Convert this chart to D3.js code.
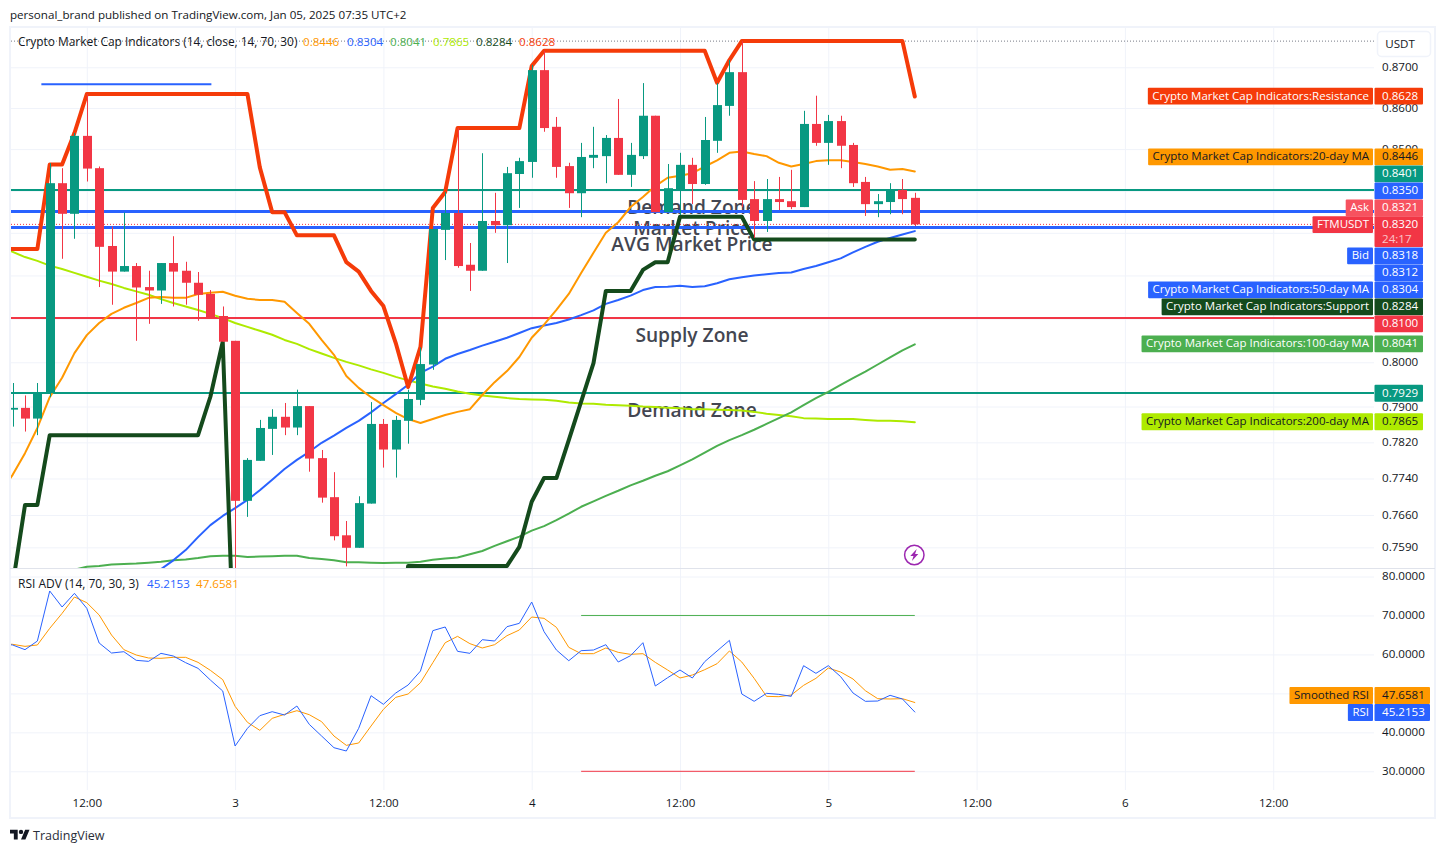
<!DOCTYPE html>
<html>
<head>
<meta charset="utf-8">
<title>FTMUSDT</title>
<script src="https://cdnjs.cloudflare.com/ajax/libs/d3/7.9.0/d3.min.js"></script>
<style>
  html, body { margin: 0; padding: 0; background: #fff; }
  svg { display: block; }
  text { font-family: "Open Sans", sans-serif; font-size: 11.6px; fill: #131722; }
</style>
</head>
<body>
<svg id="chart" width="1445" height="853"></svg>
<script>
// hourly candles, first one is Jan 2 06:00
const opens = [.7893,.7897,.7873,.7930,.8418,.8345,.8532,.8454,.8269,.8209,.8222,.8173,.8165,.8229,.8211,.8183,.8157,.8106,.8049,.7691,.7779,.7850,.7877,.7853,.7901,.7785,.7699,.7616,.7589,.7685,.7861,.7804,.7868,.7915,.7995,.8307,.8347,.8225,.8211,.8328,.8318,.8440,.8469,.8693,.8554,.8459,.8394,.8479,.8483,.8527,.8438,.8483,.8581,.8349,.8402,.8462,.8416,.8520,.8605,.8688,.8380,.8328,.8380,.8375,.8361,.8561,.8515,.8568,.8510,.8421,.8368,.8373,.8402,.8383];
const highs = [.7953,.7925,.7953,.8466,.8454,.8539,.8634,.8458,.8315,.8348,.8229,.8211,.8229,.8292,.8232,.8208,.8166,.8128,.8049,.7785,.7870,.7894,.7908,.7938,.7901,.7803,.7754,.7647,.7701,.7910,.7872,.7879,.7938,.8034,.8309,.8397,.8551,.8276,.8490,.8395,.8457,.8479,.8706,.8741,.8578,.8467,.8515,.8554,.8534,.8622,.8515,.8661,.8581,.8464,.8491,.8479,.8578,.8661,.8718,.8765,.8423,.8428,.8433,.8450,.8593,.8630,.8583,.8581,.8515,.8433,.8392,.8418,.8428,.8395];
const lows = [.7855,.7844,.7836,.7921,.8239,.8286,.8422,.8173,.8132,.8209,.8049,.8088,.8134,.8128,.8132,.8095,.8103,.8047,.7291,.7656,.7779,.7792,.7836,.7836,.7755,.7687,.7605,.7549,.7589,.7685,.7764,.7742,.7817,.7903,.7983,.8236,.8218,.8164,.8211,.8300,.8229,.8359,.8431,.8542,.8431,.8359,.8337,.8454,.8418,.8438,.8409,.8476,.8349,.8349,.8342,.8368,.8414,.8491,.8581,.8361,.8288,.8302,.8354,.8356,.8361,.8508,.8462,.8454,.8409,.8340,.8337,.8344,.8344,.8316];
const closes = [.7897,.7873,.7930,.8418,.8345,.8532,.8453,.8267,.8209,.8222,.8172,.8165,.8229,.8209,.8183,.8155,.8103,.8047,.7691,.7781,.7852,.7877,.7853,.7901,.7784,.7698,.7614,.7589,.7686,.7861,.7804,.7870,.7917,.7996,.8309,.8347,.8222,.8211,.8328,.8318,.8442,.8471,.8693,.8551,.8457,.8394,.8481,.8486,.8527,.8438,.8486,.8581,.8349,.8406,.8462,.8416,.8522,.8607,.8688,.8378,.8328,.8380,.8373,.8361,.8561,.8515,.8568,.8508,.8418,.8368,.8375,.8402,.8380,.8320];

// indicator lines, each with the hour (since Jan 2 00:00) of its first value
const resistance = [.8262,.8262,.8262,.8262,.8463,.8463,.8539,.8634,.8634,.8634,.8634,.8634,.8634,.8634,.8634,.8634,.8634,.8634,.8634,.8634,.8634,.8456,.8349,.8349,.8294,.8294,.8294,.8294,.8231,.8209,.8164,.8129,.8044,.7944,.8035,.8359,.8397,.8551,.8551,.8551,.8551,.8551,.8551,.8703,.8741,.8741,.8741,.8741,.8741,.8741,.8741,.8741,.8741,.8741,.8741,.8741,.8741,.8741,.8662,.8718,.8765,.8765,.8765,.8765,.8765,.8765,.8765,.8765,.8765,.8765,.8765,.8765,.8765,.8765,.8628];
const support = [.7440,.7509,.7682,.7682,.7836,.7836,.7836,.7836,.7836,.7836,.7836,.7836,.7836,.7836,.7836,.7836,.7836,.7922,.8047,.7291,.7291,.7291,.7291,.7291,.7291,.7291,.7291,.7291,.7291,.7291,.7291,.7291,.7291,.7550,.7550,.7550,.7550,.7550,.7550,.7550,.7550,.7550,.7591,.7689,.7741,.7741,.7825,.7911,.7998,.8164,.8164,.8164,.8213,.8231,.8231,.8338,.8338,.8338,.8338,.8338,.8338,.8284,.8284,.8284,.8284,.8284,.8284,.8284,.8284,.8284,.8284,.8284,.8284,.8284,.8284];
const ma20 = [.7710,.7748,.7796,.7852,.7921,.7965,.8021,.8062,.8090,.8111,.8125,.8136,.8148,.8150,.8148,.8148,.8157,.8160,.8162,.8153,.8146,.8143,.8143,.8139,.8113,.8088,.8051,.8017,.7969,.7942,.7921,.7903,.7886,.7872,.7863,.7872,.7881,.7888,.7894,.7926,.7955,.7980,.8012,.8056,.8086,.8120,.8157,.8206,.8253,.8300,.8325,.8361,.8385,.8411,.8431,.8436,.8442,.8458,.8473,.8491,.8494,.8488,.8483,.8467,.8458,.8464,.8471,.8473,.8473,.8469,.8464,.8458,.8450,.8452,.8446];
const ma50 = [.7523,.7543,.7562,.7584,.7612,.7638,.7658,.7675,.7693,.7714,.7737,.7761,.7781,.7799,.7819,.7835,.7852,.7868,.7887,.7908,.7928,.7949,.7976,.7990,.8008,.8019,.8028,.8038,.8047,.8056,.8067,.8078,.8084,.8090,.8098,.8108,.8119,.8134,.8143,.8153,.8166,.8173,.8174,.8176,.8173,.8175,.8182,.8191,.8196,.8200,.8203,.8206,.8207,.8215,.8222,.8231,.8240,.8254,.8267,.8279,.8288,.8296,.8304];
const ma100 = [.7542,.7548,.7550,.7553,.7554,.7555,.7557,.7559,.7562,.7564,.7567,.7571,.7572,.7572,.7569,.7570,.7571,.7572,.7572,.7567,.7565,.7562,.7558,.7558,.7557,.7556,.7557,.7557,.7559,.7563,.7566,.7568,.7575,.7582,.7593,.7603,.7613,.7626,.7636,.7649,.7663,.7678,.7690,.7702,.7713,.7725,.7735,.7746,.7756,.7769,.7782,.7797,.7812,.7825,.7836,.7848,.7861,.7874,.7887,.7903,.7919,.7933,.7949,.7964,.7979,.7995,.8011,.8027,.8041];
const ma200 = [.8267,.8255,.8243,.8234,.8223,.8215,.8206,.8197,.8188,.8180,.8171,.8163,.8155,.8145,.8136,.8128,.8120,.8111,.8101,.8090,.8081,.8072,.8063,.8051,.8042,.8030,.8020,.8010,.8001,.7993,.7984,.7976,.7967,.7959,.7952,.7945,.7940,.7934,.7929,.7925,.7922,.7919,.7917,.7916,.7915,.7913,.7909,.7907,.7906,.7904,.7903,.7902,.7900,.7899,.7897,.7896,.7894,.7894,.7893,.7892,.7891,.7888,.7884,.7881,.7878,.7874,.7873,.7872,.7872,.7872,.7870,.7868,.7868,.7867,.7865];
const rsi = [62.76,62.42,61.22,63.44,76.28,72.17,75.68,71.83,62.93,60.36,60.70,58.48,58.22,60.28,59.59,57.88,56.43,53.43,50.61,36.49,41.03,44.28,45.30,44.45,46.76,42.05,39.06,36.06,35.21,41.03,49.41,47.19,50.10,52.15,55.74,66.10,67.04,60.79,60.28,63.78,63.44,67.12,67.98,73.45,65.84,61.13,58.39,60.96,61.13,62.50,58.05,59.68,63.01,51.89,54.03,56.00,53.95,58.14,60.88,63.61,49.84,47.96,50.01,49.75,49.24,57.11,55.14,57.11,54.29,50.10,47.96,48.04,49.50,48.56,45.22];
const rsiSmooth = [62.76,62.59,62.07,62.42,66.69,70.54,74.74,73.28,70.12,64.98,61.22,59.85,59.08,59.00,59.25,59.25,57.97,55.91,53.52,46.67,42.57,40.51,43.59,44.62,45.56,44.53,42.74,39.06,36.66,37.26,41.62,45.90,48.98,49.84,52.75,57.88,63.00,64.64,62.76,61.65,62.50,64.81,66.27,69.60,69.26,66.95,61.82,60.19,60.19,61.65,60.53,60.02,60.19,57.97,56.00,53.95,54.72,56.08,57.62,60.88,58.05,53.86,49.24,49.15,49.58,52.06,53.86,56.51,55.48,53.69,50.69,48.64,48.56,48.64,47.66];

// horizontal levels and zone captions
const levelPrices = [.8401, .8350, .8312, .8100, .7929];
const levelColors = ["#089981", "#2962ff", "#2962ff", "#f23645", "#089981"];
const zoneLabels = ["Demand Zone", "Market Price", "AVG Market Price", "Supply Zone", "Demand Zone"];
const zonePrices = [.8361, .8310, .8273, .8062, .7892];

// ticks
const priceTicks = [.87, .86, .85, .84, .83, .82, .81, .80, .79, .782, .774, .766, .759];
const priceTickLabels = [.87, .86, .85, .80, .79, .782, .774, .766, .759];
const rsiTicks = [80, 70, 60, 50, 40, 30];
const timeHours = [12, 24, 36, 48, 60, 72, 84, 96, 108];
const timeLabels = ["12:00", "3", "12:00", "4", "12:00", "5", "12:00", "6", "12:00"];

// price scale tags
const topTags = [
  { name: "Crypto Market Cap Indicators:Resistance", value: .8628, fill: "#f53b09", text: "#fff" },
  { name: "Crypto Market Cap Indicators:100-day MA", value: .8041, fill: "#4caf50", text: "#fff" },
  { name: null, value: .7929, fill: "#089981", text: "#fff" },
  { name: "Crypto Market Cap Indicators:200-day MA", value: .7865, fill: "#aeea00", text: "#131722" }
];
const stackedTags = [
  { name: "Crypto Market Cap Indicators:20-day MA", value: "0.8446", fill: "#ff9800", text: "#131722" },
  { name: null, value: "0.8401", fill: "#089981", text: "#fff" },
  { name: null, value: "0.8350", fill: "#2962ff", text: "#fff" },
  { name: "Ask", value: "0.8321", fill: "#f7525f", text: "#fff" },
  { name: "FTMUSDT", value: "0.8320", fill: "#f23645", text: "#fff", sub: "24:17" },
  { name: "Bid", value: "0.8318", fill: "#2962ff", text: "#fff" },
  { name: null, value: "0.8312", fill: "#2962ff", text: "#fff" },
  { name: "Crypto Market Cap Indicators:50-day MA", value: "0.8304", fill: "#2962ff", text: "#fff" },
  { name: "Crypto Market Cap Indicators:Support", value: "0.8284", fill: "#144a1c", text: "#fff" },
  { name: null, value: "0.8100", fill: "#f23645", text: "#fff" }
];
const rsiTags = [
  { name: "Smoothed RSI", value: "47.6581", fill: "#ff9800", text: "#131722" },
  { name: "RSI", value: "45.2153", fill: "#2962ff", text: "#fff" }
];
const legendValues = ["0.8446", "0.8304", "0.8041", "0.7865", "0.8284", "0.8628"];
const legendColors = ["#ff9800", "#2962ff", "#4caf50", "#aeea00", "#144a1c", "#f53b09"];
const legendX = [303, 347, 390, 433, 476, 519];

const svg = d3.select("#chart");

const paneLeft = 11, paneRight = 1374, topPaneTop = 28, topPaneBottom = 568, rsiBottom = 790, frameBottom = 818;
const hourDate = (h) => new Date(Date.UTC(2025, 0, 2, h));

const x = d3.scaleUtc().domain([hourDate(6), hourDate(108)]).range([12.65, 1273.2]);
const y = d3.scaleLog().domain([.87, .80]).range([67.3, 362.3]);
const yRsi = d3.scaleLinear().domain([80, 30]).range([576.5, 771.3]);

const defs = svg.append("defs");
defs.append("clipPath").attr("id", "clipTop").append("rect")
  .attr("x", paneLeft).attr("y", topPaneTop).attr("width", paneRight - paneLeft).attr("height", topPaneBottom - topPaneTop);
defs.append("clipPath").attr("id", "clipRsi").append("rect")
  .attr("x", paneLeft).attr("y", topPaneBottom).attr("width", paneRight - paneLeft).attr("height", rsiBottom - topPaneBottom);

// frame
svg.append("rect").attr("x", 10).attr("y", 27).attr("width", 1425).attr("height", frameBottom - 27)
  .attr("fill", "#fff").attr("stroke", "#f0f3fa").attr("stroke-width", 2);

// grid
const grid = svg.append("g");
grid.append("g").attr("transform", `translate(0,${rsiBottom})`)
  .call(d3.axisBottom(x).tickValues(timeHours.map(hourDate)).tickSize(-(rsiBottom - topPaneTop)).tickFormat(""));
grid.append("g").attr("transform", `translate(${paneRight},0)`)
  .call(d3.axisLeft(y).tickValues(priceTicks).tickSize(paneRight - paneLeft).tickFormat(""));
grid.append("g").attr("transform", `translate(${paneRight},0)`)
  .call(d3.axisLeft(yRsi).tickValues(rsiTicks).tickSize(paneRight - paneLeft).tickFormat(""));
grid.selectAll(".domain").remove();
grid.selectAll("line").attr("stroke", "#f0f3fa").attr("stroke-width", 1);

const topPane = svg.append("g").attr("clip-path", "url(#clipTop)");

// top dotted line under the legend
topPane.append("line").attr("x1", paneLeft).attr("x2", paneRight).attr("y1", y(.8765)).attr("y2", y(.8765))
  .attr("stroke", "#787b86").attr("stroke-width", 1).attr("stroke-dasharray", "1 2");

// zone captions
topPane.selectAll("text.zone").data(zoneLabels).join("text").attr("class", "zone")
  .attr("x", 692).attr("y", (d, i) => y(zonePrices[i]))
  .attr("dy", "0.35em").attr("text-anchor", "middle")
  .style("font-size", "19.2px").style("font-weight", 600).style("fill", "#434651")
  .text((d) => d);

// levels
topPane.selectAll("line.level").data(levelPrices).join("line").attr("class", "level")
  .attr("x1", paneLeft).attr("x2", paneRight)
  .attr("y1", (d) => y(d) - 0.6).attr("y2", (d) => y(d) - 0.6)
  .attr("stroke", (d, i) => levelColors[i])
  .attr("stroke-width", (d, i) => levelColors[i] === "#2962ff" ? 3 : 2)
  .attr("shape-rendering", "crispEdges");
topPane.append("line").attr("x1", paneLeft).attr("x2", paneRight).attr("y1", y(.8320)).attr("y2", y(.8320))
  .attr("stroke", "#f23645").attr("stroke-width", 1).attr("stroke-dasharray", "1 2");

// trend segment above the first peak
topPane.append("line").attr("x1", x(hourDate(8)) + 4).attr("x2", x(hourDate(22)) + 1).attr("y1", y(.8658)).attr("y2", y(.8658))
  .attr("stroke", "#2962ff").attr("stroke-width", 2);

const drawLine = (parent, yScale, values, firstHour, color, width) => {
  const line = d3.line().x((d, i) => x(hourDate(firstHour + i))).y((d) => yScale(d));
  parent.append("path").datum(values).attr("d", line)
    .attr("fill", "none").attr("stroke", color).attr("stroke-width", width)
    .attr("stroke-linejoin", "round").attr("stroke-linecap", "round");
};

drawLine(topPane, y, ma200, 5, "#aeea00", 2);
drawLine(topPane, y, ma100, 11, "#4caf50", 2);
drawLine(topPane, y, ma50, 17, "#2962ff", 2);
drawLine(topPane, y, ma20, 5, "#ff9800", 2);
drawLine(topPane, y, support, 5, "#144a1c", 4);
drawLine(topPane, y, resistance, 5, "#f53b09", 4);

// candles
const candles = topPane.selectAll("g.candle").data(d3.range(opens.length)).join("g").attr("class", "candle");
const candleColor = (i) => closes[i] >= opens[i] ? "#089981" : "#f23645";
const candleX = (i) => Math.round(x(hourDate(6 + i)));
candles.append("line")
  .attr("x1", (i) => candleX(i) + 0.5).attr("x2", (i) => candleX(i) + 0.5)
  .attr("y1", (i) => y(highs[i])).attr("y2", (i) => y(lows[i]))
  .attr("stroke", candleColor).attr("stroke-width", 1);
candles.append("rect")
  .attr("x", (i) => candleX(i) - 4).attr("width", 9)
  .attr("y", (i) => y(Math.max(opens[i], closes[i])))
  .attr("height", (i) => Math.max(1.5, Math.abs(y(opens[i]) - y(closes[i]))))
  .attr("fill", candleColor);

// lightning badge
const badge = svg.append("g").attr("transform", "translate(914.3,555)");
badge.append("circle").attr("r", 9.7).attr("fill", "#fff").attr("stroke", "#9c27b0").attr("stroke-width", 1.5);
badge.append("path").attr("d", "M2.4,-6 L-4,1 L-0.8,1 L-2.4,6 L4,-1 L0.8,-1 Z").attr("fill", "#9c27b0");

// rsi pane
const rsiPane = svg.append("g").attr("clip-path", "url(#clipRsi)");
rsiPane.append("line").attr("x1", x(hourDate(52))).attr("x2", x(hourDate(79))).attr("y1", yRsi(70)).attr("y2", yRsi(70))
  .attr("stroke", "#4caf50").attr("stroke-width", 1);
rsiPane.append("line").attr("x1", x(hourDate(52))).attr("x2", x(hourDate(79))).attr("y1", yRsi(30)).attr("y2", yRsi(30))
  .attr("stroke", "#f23645").attr("stroke-width", 1);
drawLine(rsiPane, yRsi, rsiSmooth, 5, "#ff9800", 1);
drawLine(rsiPane, yRsi, rsi, 5, "#2962ff", 1);

// separator
svg.append("line").attr("x1", 10).attr("x2", 1435).attr("y1", topPaneBottom + 0.5).attr("y2", topPaneBottom + 0.5)
  .attr("stroke", "#e0e3eb");

// axes labels
const timeAxis = svg.append("g").attr("transform", `translate(0,${rsiBottom + 9})`)
  .call(d3.axisBottom(x).tickValues(timeHours.map(hourDate)).tickSize(0)
    .tickFormat((d, i) => timeLabels[i]));
const priceAxis = svg.append("g").attr("transform", "translate(1382,0)")
  .call(d3.axisRight(y).tickValues(priceTickLabels).tickSize(0).tickFormat(d3.format(".4f")));
const rsiAxis = svg.append("g").attr("transform", "translate(1382,0)")
  .call(d3.axisRight(yRsi).tickValues(rsiTicks).tickSize(0).tickFormat(d3.format(".4f")));
[timeAxis, priceAxis, rsiAxis].forEach((a) => {
  a.select(".domain").remove();
  a.attr("font-family", null).attr("font-size", null);
});
priceAxis.selectAll("text").attr("x", 0).attr("dy", "0.3em");
rsiAxis.selectAll("text").attr("x", 0).attr("dy", "0.3em");
timeAxis.selectAll("text").attr("y", 0).attr("dy", "0.71em");

// USDT button
svg.append("rect").attr("x", 1377.5).attr("y", 31.5).attr("width", 53).attr("height", 25).attr("rx", 4)
  .attr("fill", "#fff").attr("stroke", "#f0f3fa").attr("stroke-width", 1.5);
svg.append("text").attr("x", 1400).attr("y", 44).attr("dy", "0.35em").attr("text-anchor", "middle").text("USDT");

// price scale tags
const drawTag = (tag, cy, rightEdge) => {
  const h = tag.sub ? 30.7 : 16.8;
  const boxTop = tag.sub ? cy : cy - h / 2;
  svg.append("rect").attr("x", 1374.5).attr("y", boxTop).attr("width", rightEdge - 1374.5).attr("height", h)
    .attr("rx", 1).attr("fill", tag.fill);
  const midY = tag.sub ? boxTop + 8.4 : cy;
  svg.append("text").attr("x", 1382).attr("y", midY - 0.5).attr("dy", "0.35em")
    .style("fill", tag.text).text(tag.valueText);
  if (tag.sub) {
    svg.append("text").attr("x", 1382).attr("y", boxTop + 22.5).attr("dy", "0.35em")
      .style("fill", "#fff").style("opacity", 0.7).text(tag.sub);
  }
  if (tag.name) {
    const rect = svg.append("rect").attr("y", midY - 8.4).attr("height", 16.8).attr("rx", 1).attr("fill", tag.fill);
    const label = svg.append("text").attr("x", 1369).attr("y", midY - 0.5).attr("dy", "0.35em")
      .attr("text-anchor", "end").style("fill", tag.text).style("font-size", "11.5px").text(tag.name);
    const w = label.node().getComputedTextLength();
    rect.attr("x", 1369 - w - 4.5).attr("width", w + 8.5);
  }
};

topTags.forEach((t) => drawTag({ ...t, valueText: d3.format(".4f")(t.value) }, y(t.value) - 0.4, 1423));

let stackY = 148.3;
stackedTags.forEach((t) => {
  const tall = !!t.sub;
  drawTag({ ...t, valueText: t.value }, tall ? stackY : stackY + 8.5, 1423);
  stackY += tall ? 31 : 17;
});
let rsiStackY = 687;
rsiTags.forEach((t) => {
  drawTag({ ...t, valueText: t.value }, rsiStackY + 8.5, 1430);
  rsiStackY += 17;
});

// legends
svg.append("text").attr("x", 18).attr("y", 41.5).attr("dy", "0.35em").style("font-size", "11.9px").text("Crypto Market Cap Indicators (14, close, 14, 70, 30)");
svg.selectAll("text.legendValue").data(legendValues).join("text").attr("class", "legendValue")
  .attr("x", (d, i) => legendX[i]).attr("y", 41.5).attr("dy", "0.35em")
  .style("font-size", "11.6px").style("fill", (d, i) => legendColors[i]).text((d) => d);
svg.append("text").attr("x", 18).attr("y", 583.5).attr("dy", "0.35em").style("font-size", "12px").text("RSI ADV (14, 70, 30, 3)");
svg.append("text").attr("x", 147).attr("y", 583.5).attr("dy", "0.35em").style("fill", "#2962ff").text("45.2153");
svg.append("text").attr("x", 196).attr("y", 583.5).attr("dy", "0.35em").style("fill", "#ff9800").text("47.6581");

// header and footer
svg.append("text").attr("x", 10).attr("y", 15).attr("dy", "0.35em").text("personal_brand published on TradingView.com, Jan 05, 2025 07:35 UTC+2");
const logo = svg.append("g").attr("transform", "translate(10,827.5) scale(0.55)");
logo.append("path").attr("d", "M14 22H7V11H0V4h14v18zM28 22h-8l7.5-18h8L28 22z").attr("fill", "#131722");
logo.append("circle").attr("cx", 20).attr("cy", 8).attr("r", 4).attr("fill", "#131722");
svg.append("text").attr("x", 33).attr("y", 835.5).attr("dy", "0.35em").style("font-size", "12.5px").style("fill", "#2a2e39").text("TradingView");
</script>
</body>
</html>
